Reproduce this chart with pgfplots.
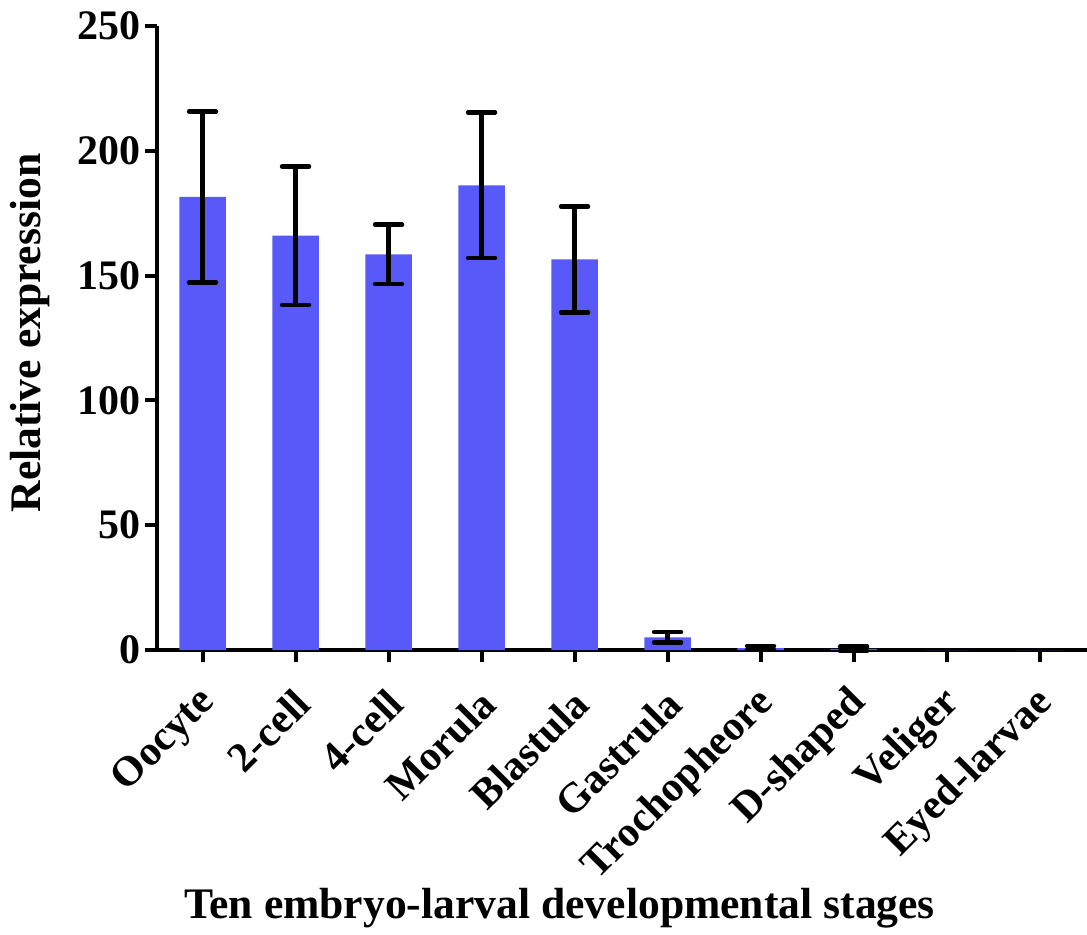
\documentclass[border=0pt]{standalone}
\usepackage{fontspec}
\setmainfont{Liberation Serif}
\usepackage{pgfplots}
\pgfplotsset{compat=1.18}
\definecolor{barblue}{RGB}{89,89,250}
\begin{document}
\fontsize{21}{25}\selectfont\bfseries%
\begin{tikzpicture}
\useasboundingbox (-78.5pt,-142pt) rectangle (465pt,325pt);
\begin{axis}[
  at={(0,0)}, anchor=south west,
  scale only axis,
  width=465pt, height=312pt,
  xmin=-0.49, xmax=9.51,
  ymin=0, ymax=250,
  ytick={0,50,100,150,200,250},
  xtick={0,1,2,3,4,5,6,7,8,9},
  xticklabels={Oocyte,2-cell,4-cell,Morula,Blastula,Gastrula,Trochopheore,D-shaped,Veliger,Eyed-larvae},
  axis x line*=bottom, axis y line*=left,
  axis line style={line width=2pt,-},
  tick align=outside,
  major tick length=6pt,
  tick style={line width=2pt, black},
  /pgf/number format/assume math mode=true,
  ticklabel style={font=\fontsize{21}{25}\selectfont\bfseries},
  xticklabel style={rotate=45, anchor=east, inner sep=2pt, xshift=-7.8pt, yshift=-14.8pt},
  yticklabel style={inner sep=2pt},
  xlabel={Ten embryo-larval developmental stages},
  ylabel={Relative expression},
  label style={font=\fontsize{21.8}{26}\selectfont\bfseries},
  xlabel style={at={(axis description cs:0.433,0)}, anchor=center, yshift=-129pt},
  ylabel style={at={(axis description cs:0,0.508)}, anchor=center, yshift=63.5pt},
  clip=false,
]
\addplot[ybar, bar width=0.5, fill=barblue, draw=none,
  error bars/.cd, y dir=both, y explicit,
  error bar style={line width=2.2pt, black},
  error mark options={rotate=90, mark size=6.75pt, line width=2.2pt, black, line cap=round}]
  table[x=x, y=y, y error=e] {
x y e
0 181.5 34.2
1 166.0 27.7
2 158.5 11.9
3 186.2 29.2
4 156.5 21.2
5 5.1 2.1
6 0.8 0.7
7 0.5 0.9
};
\addplot[ybar, bar width=0.5, fill=barblue, draw=none]
  table[x=x, y=y] {
x y
8 0
9 0
};
\end{axis}
\end{tikzpicture}
\end{document}
